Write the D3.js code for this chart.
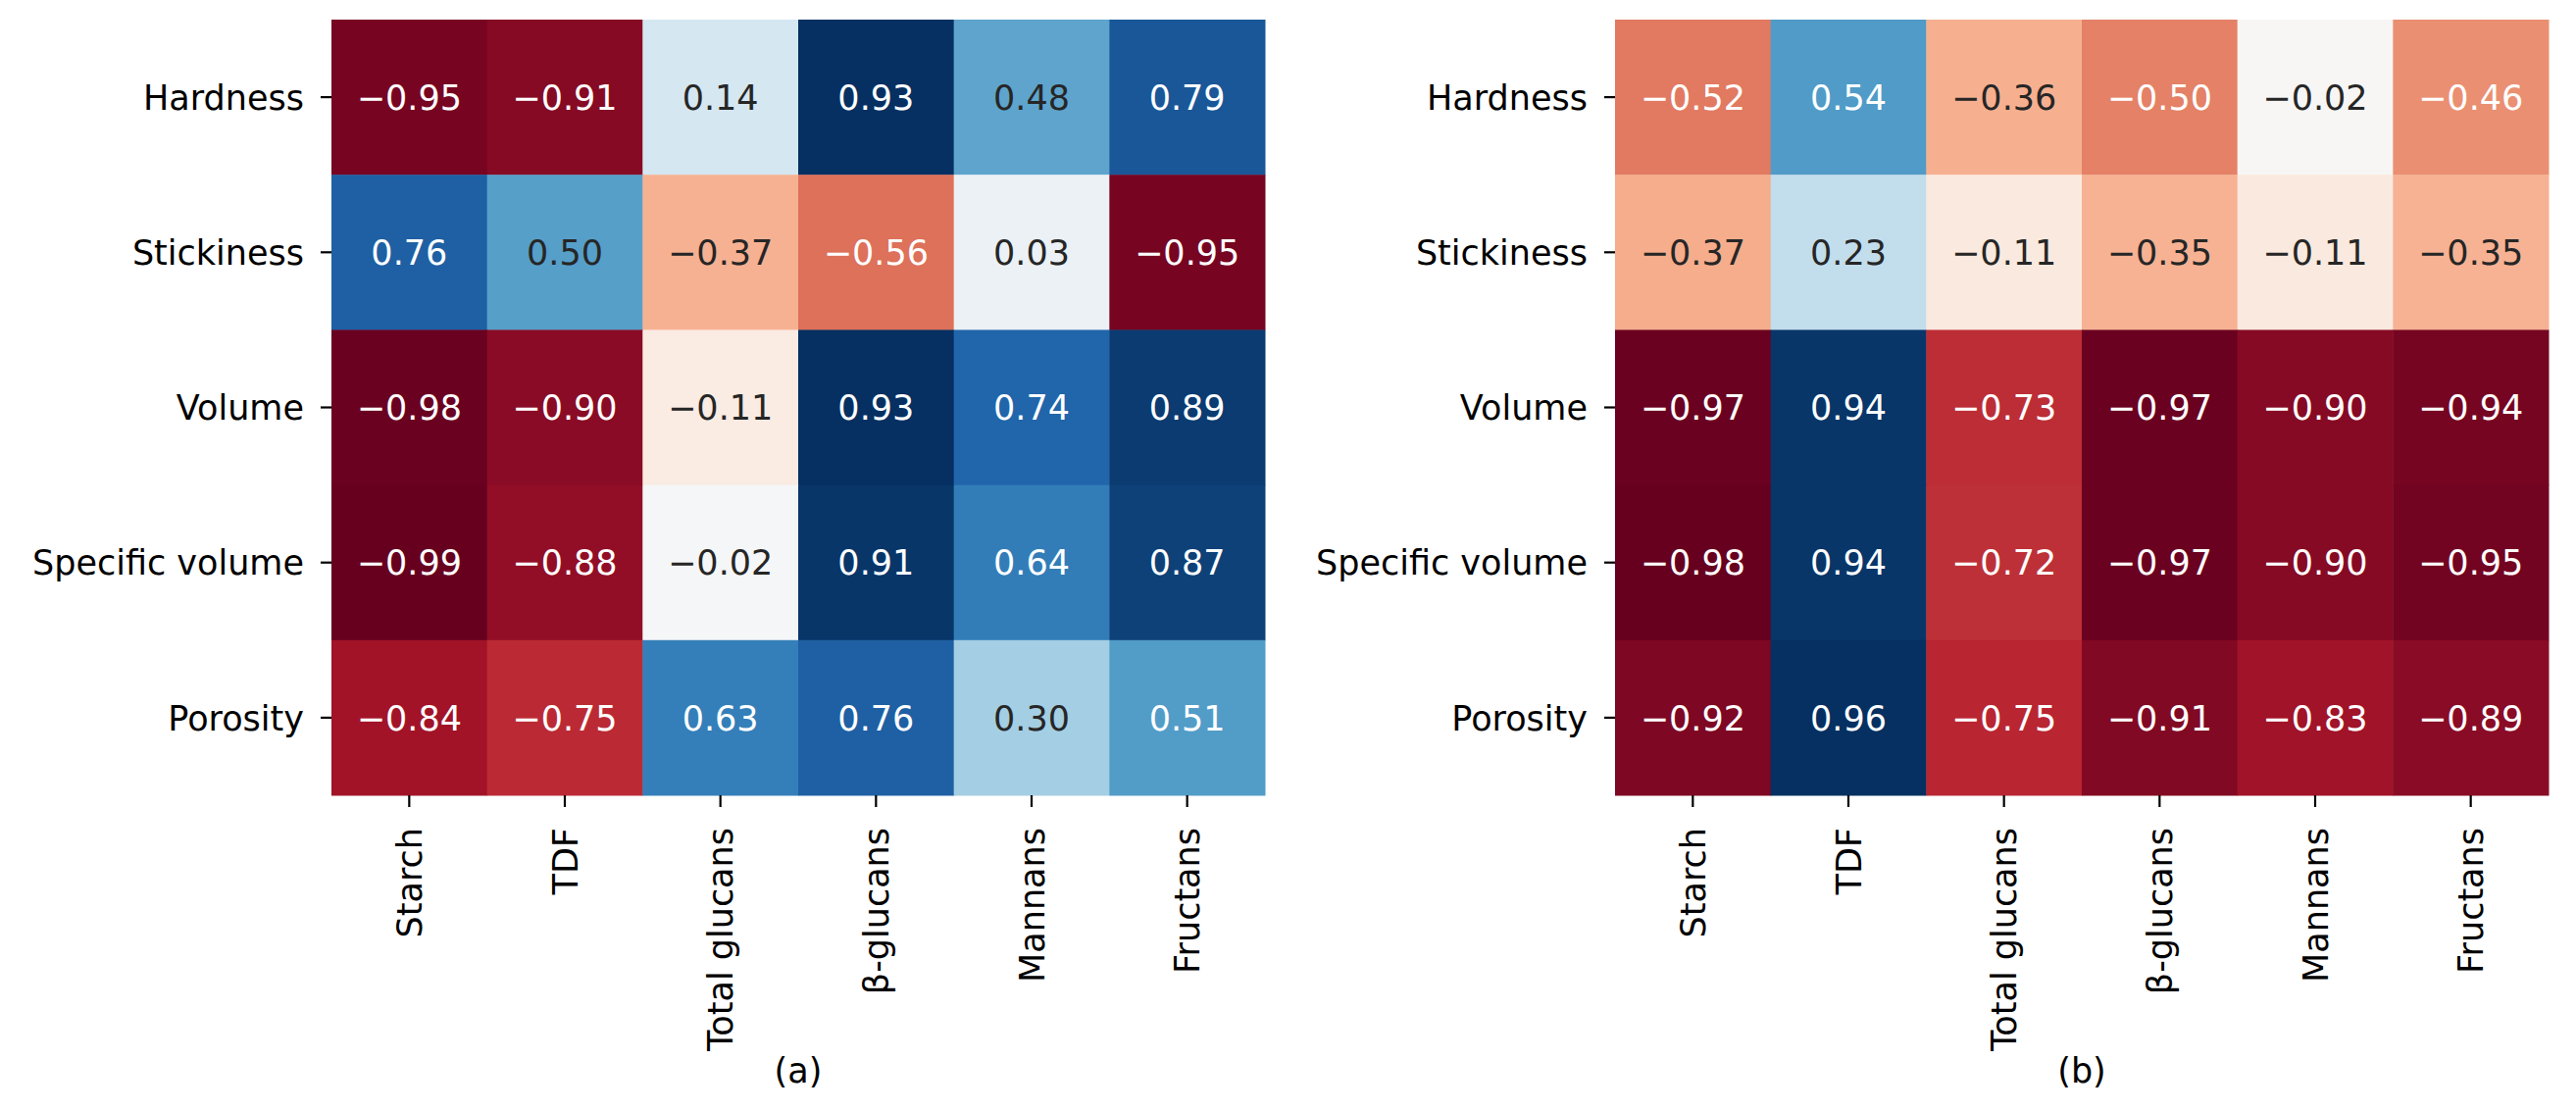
<!DOCTYPE html>
<html>
<head>
<meta charset="utf-8">
<script src="https://cdn.jsdelivr.net/npm/d3@7"></script>
<style>
  html, body { margin: 0; padding: 0; background: #ffffff; }
  svg { display: block; }
  text { font-family: "DejaVu Sans", sans-serif; }
</style>
</head>
<body>
<svg id="chart" width="2627" height="1133"></svg>
<script>
// ---- Data ----
const rows = ["Hardness", "Stickiness", "Volume", "Specific volume", "Porosity"];
const cols = ["Starch", "TDF", "Total glucans", "β-glucans", "Mannans", "Fructans"];

const valuesA = [
  [-0.95, -0.91,  0.14,  0.93,  0.48,  0.79],
  [ 0.76,  0.50, -0.37, -0.56,  0.03, -0.95],
  [-0.98, -0.90, -0.11,  0.93,  0.74,  0.89],
  [-0.99, -0.88, -0.02,  0.91,  0.64,  0.87],
  [-0.84, -0.75,  0.63,  0.76,  0.30,  0.51]
];
const valuesB = [
  [-0.52,  0.54, -0.36, -0.50, -0.02, -0.46],
  [-0.37,  0.23, -0.11, -0.35, -0.11, -0.35],
  [-0.97,  0.94, -0.73, -0.97, -0.90, -0.94],
  [-0.98,  0.94, -0.72, -0.97, -0.90, -0.95],
  [-0.92,  0.96, -0.75, -0.91, -0.83, -0.89]
];
const panelLabels = ["(a)", "(b)"];

// matplotlib "RdBu" colormap anchor colours
const rdbu = ["#67001f", "#b2182b", "#d6604d", "#f4a582", "#fddbc7", "#f7f7f7",
              "#d1e5f0", "#92c5de", "#4393c3", "#2166ac", "#053061"];

// ---- Layout ----
const svg = d3.select("#chart");
const fontSize = 35;
const panels = [
  { x0: 338,  x1: 1290, values: valuesA, label: panelLabels[0] },
  { x0: 1647, x1: 2599, values: valuesB, label: panelLabels[1] }
];
const y0 = 20, y1 = 811;

const fmt = v => d3.format(".2f")(v).replace("-", "\u2212");
// annotation colour: light text on strongly coloured cells
const textColor = v => (v > 0.5 || v < -0.4) ? "#ffffff" : "#262626";

panels.forEach(p => {
  const flat = p.values.flat();
  const vmin = d3.min(flat), vmax = d3.max(flat);
  const color = d3.scaleLinear()
    .domain(d3.range(rdbu.length).map(i => vmin + (vmax - vmin) * i / (rdbu.length - 1)))
    .range(rdbu)
    .interpolate(d3.interpolateRgb)
    .clamp(true);

  const x = d3.scaleBand().domain(cols).range([p.x0, p.x1]).padding(0);
  const y = d3.scaleBand().domain(rows).range([y0, y1]).padding(0);
  const g = svg.append("g");

  const cells = [];
  p.values.forEach((r, i) => r.forEach((v, j) => cells.push({ row: rows[i], col: cols[j], v })));

  g.selectAll("rect.cell").data(cells).join("rect")
    .attr("class", "cell")
    .attr("x", d => x(d.col))
    .attr("y", d => y(d.row))
    .attr("width", x.bandwidth() + 0.5)
    .attr("height", y.bandwidth() + 0.5)
    .attr("fill", d => color(d.v));

  g.selectAll("text.ann").data(cells).join("text")
    .attr("class", "ann")
    .attr("x", d => x(d.col) + x.bandwidth() / 2)
    .attr("y", d => y(d.row) + y.bandwidth() / 2)
    .attr("dy", "0.36em")
    .attr("text-anchor", "middle")
    .attr("font-size", fontSize)
    .attr("fill", d => textColor(d.v))
    .text(d => fmt(d.v));

  // y axis
  const ya = g.append("g")
    .attr("transform", `translate(${p.x0},0)`)
    .call(d3.axisLeft(y).tickSize(11).tickPadding(17));
  ya.select(".domain").remove();
  ya.selectAll(".tick line").attr("stroke", "#000").attr("stroke-width", 2.2);
  ya.selectAll(".tick text").attr("font-size", fontSize).attr("fill", "#000")
    .attr("font-family", "DejaVu Sans").attr("dy", "0.36em");

  // x axis
  const xa = g.append("g")
    .attr("transform", `translate(0,${y1})`)
    .call(d3.axisBottom(x).tickSize(12).tickPadding(20));
  xa.select(".domain").remove();
  xa.selectAll(".tick line").attr("stroke", "#000").attr("stroke-width", 2.2);
  xa.selectAll(".tick text")
    .attr("font-size", fontSize).attr("fill", "#000").attr("font-family", "DejaVu Sans")
    .attr("transform", "rotate(-90)")
    .attr("x", -33).attr("y", 0).attr("dy", "0.36em")
    .attr("text-anchor", "end");

  // panel label
  g.append("text")
    .attr("x", (p.x0 + p.x1) / 2)
    .attr("y", 1104)
    .attr("text-anchor", "middle")
    .attr("font-size", fontSize)
    .attr("fill", "#000")
    .text(p.label);
});
</script>
</body>
</html>
